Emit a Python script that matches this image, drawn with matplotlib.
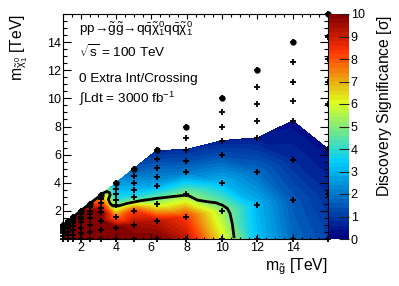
import numpy as np
import matplotlib
matplotlib.use("Agg")
import matplotlib.pyplot as plt
import matplotlib.tri as mtri
from matplotlib.colors import LinearSegmentedColormap, Normalize
from matplotlib.cm import ScalarMappable
from matplotlib.ticker import MultipleLocator, FixedLocator

plt.rcParams['font.family'] = ['Liberation Sans', 'DejaVu Sans']
plt.rcParams['mathtext.fontset'] = 'custom'
plt.rcParams['mathtext.rm'] = 'Liberation Sans'
plt.rcParams['mathtext.it'] = 'Liberation Sans:italic'
plt.rcParams['mathtext.default'] = 'regular'

# scan points: gluino mass [TeV] and neutralino masses [TeV] for each gluino mass
m_gluino = [1.0, 1.26, 1.58, 2.0, 2.51, 3.16, 3.98, 5.01, 6.31, 7.94, 10.0, 12.0, 14.0, 16.0]
m_lsp = [
    [0, 0.2, 0.4, 0.6, 0.7, 0.8, 0.9, 1.0],
    [0, 0.25, 0.5, 0.76, 0.88, 1.01, 1.13, 1.26],
    [0, 0.32, 0.63, 0.95, 1.11, 1.26, 1.42, 1.58],
    [0, 0.4, 0.8, 1.2, 1.4, 1.6, 1.8, 2.0],
    [0, 0.5, 1.0, 1.51, 1.76, 2.01, 2.26, 2.51],
    [0, 0.63, 1.26, 1.9, 2.21, 2.53, 2.84, 3.16],
    [0, 0.8, 1.59, 2.39, 2.79, 3.18, 3.58, 3.98],
    [0, 1.0, 2.0, 3.0, 3.5, 4.0, 4.5, 5.01],
    [0, 1.26, 2.52, 3.79, 4.42, 5.05, 5.68, 6.31],
    [0, 1.59, 3.18, 4.76, 5.56, 6.35, 7.15, 7.94],
    [0, 2.0, 4.0, 6.0, 7.0, 8.0, 9.0, 10.0],
    [0, 2.4, 4.8, 7.2, 8.4, 9.6, 10.8, 12.0],
    [0, 2.8, 5.6, 8.4, 9.8, 11.2, 12.6, 14.0],
    [0, 3.2, 6.4, 9.6, 11.2, 12.8, 14.4, 16.0],
]
nan = np.nan
# discovery significance [sigma] at each scan point (nan = not shown)
signif = [
    [10, 10, 10, 10, 10, 10, 10, 10],
    [10, 10, 10, 10, 10, 10, 10, 10],
    [10, 10, 10, 10, 10, 10, 10, 10],
    [10, 10, 10, 10, 10, 10, 10, 9.5],
    [10, 10, 10, 10, 10, 9.8, 9.0, 8.2],
    [10, 10, 10, 10, 9.2, 8.3, 7.2, 6.5],
    [10, 10, 7.5, 5.0, 4.0, 3.5, 3.0, 2.6],
    [10, 9.5, 8.2, 3.8, 3.0, 2.5, 2.0, 1.5],
    [10, 9.2, 5.5, 2.8, 2.2, 1.7, 1.2, 0.6],
    [9.2, 8.3, 5.0, 2.0, 1.3, 0.8, nan, nan],
    [6.2, 5.3, 3.0, 1.3, 0.6, nan, nan, nan],
    [3.2, 3.0, 1.8, 0.5, nan, nan, nan, nan],
    [1.8, 1.5, 0.8, 0.3, nan, nan, nan, nan],
    [1.2, 0.8, 0.3, nan, nan, nan, nan, nan],
]
# 5 sigma discovery contour
cont_x = [1.05, 1.4, 1.97, 2.72, 3.1, 3.3, 3.48, 3.63, 3.67, 3.57, 3.67, 3.82, 4.14,
          4.62, 5.38, 6.32, 7.08, 8.03, 8.6, 9.17, 9.64, 10.0, 10.3, 10.45, 10.58, 10.68]
cont_y = [1.0, 1.38, 1.97, 2.72, 3.08, 3.28, 3.38, 3.29, 3.13, 2.82, 2.53, 2.35, 2.35,
          2.53, 2.72, 2.89, 3.0, 3.13, 2.77, 2.65, 2.58, 2.42, 2.18, 1.83, 1.1, 0.16]

# ROOT style rainbow palette, 50 colours
stops = [0.0, 0.34, 0.61, 0.84, 1.0]
reds = [0.0, 0.0, 0.87, 1.0, 0.51]
greens = [0.0, 0.81, 1.0, 0.2, 0.0]
blues = [0.51, 1.0, 0.12, 0.0, 0.0]
cmap = LinearSegmentedColormap.from_list(
    'root', list(zip(stops, zip(reds, greens, blues))), N=50)

px, py, hx, hy, hz, top = [], [], [], [], [], []
tx, ty = [], []
for mg, lsps, sigs in zip(m_gluino, m_lsp, signif):
    for l, s in zip(lsps, sigs):
        px.append(mg)
        py.append(l)
        if not np.isnan(s):
            hx.append(mg)
            hy.append(l)
            hz.append(s)
    top.append(len(hx) - 1)
    tx.append(mg)
    ty.append(lsps[-1])

tri = mtri.Triangulation(hx, hy)
tri.set_mask(np.all(np.isin(tri.triangles, top), axis=1))

fig = plt.figure(figsize=(3.99, 2.86), dpi=100)
ax = fig.add_axes([63/399, 1-239/286, 265/399, 225/286])
cax = fig.add_axes([328.7/399, 1-239/286, 20/399, 225/286])

ax.tricontourf(tri, hz, levels=np.linspace(0, 10, 51), cmap=cmap,
               norm=Normalize(0, 10), extend='both')
ax.plot(cont_x, cont_y, color='k', lw=2.0, solid_joinstyle='round', zorder=4)
ax.plot(px, py, '+', color='k', ms=5, mew=1.3, clip_on=False, zorder=5)
ax.plot(tx, ty, 'o', color='k', ms=3.5, clip_on=False, zorder=5)

ax.set_xlim(1, 16)
ax.set_ylim(0, 16)
ax.xaxis.set_major_locator(FixedLocator([2, 4, 6, 8, 10, 12, 14]))
ax.yaxis.set_major_locator(FixedLocator([2, 4, 6, 8, 10, 12, 14]))
ax.xaxis.set_minor_locator(MultipleLocator(0.5))
ax.yaxis.set_minor_locator(MultipleLocator(0.5))
ax.tick_params(axis='both', which='both', direction='in', top=True, right=True,
               labelsize=9, colors='k', width=0.8)
ax.tick_params(axis='x', which='major', length=3.6, pad=2.5)
ax.tick_params(axis='x', which='minor', length=1.8)
ax.tick_params(axis='y', which='major', length=6, pad=1.5)
ax.tick_params(axis='y', which='minor', length=3.2)
for s in ax.spines.values():
    s.set_linewidth(0.8)

cb = fig.colorbar(ScalarMappable(norm=Normalize(0, 10), cmap=cmap), cax=cax)
cb.set_ticks(range(0, 11))
cb.outline.set_visible(False)
cax.tick_params(direction='in', length=7, width=0.8, labelsize=9, pad=1.5, color='#222222')
cax.tick_params(which='minor', length=0)

fig.text(19/399, 1-14/286, r'm$_{\tilde{\chi}_1^0}$ [TeV]', rotation=90,
         ha='center', va='top', fontsize=11.3)
fig.text(328/399, 1-270/286, r'm$_{\tilde{g}}$ [TeV]', ha='right', va='baseline',
         fontsize=11.3)
fig.text(384/399, 1-15/286, r'Discovery Significance [$\sigma$]', rotation=90,
         ha='center', va='top', fontsize=11.3)

tfs = 9.7
fig.text(79/399, 1-33/286,
         'pp→' + r'$\tilde{g}\tilde{g}$' + '→' + r'q$\bar{q}\tilde{\chi}_1^0$q$\bar{q}\tilde{\chi}_1^0$',
         va='baseline', fontsize=tfs)
fig.text(79/399, 1-57/286, r'$\sqrt{s}$ = 100 TeV', va='baseline', fontsize=tfs)
fig.text(79/399, 1-82/286, '0 Extra Int/Crossing', va='baseline', fontsize=tfs)
fig.text(79/399, 1-102/286, r'$\int$Ldt = 3000 fb$^{-1}$', va='baseline', fontsize=tfs)

fig.savefig('out.png', dpi=100)
